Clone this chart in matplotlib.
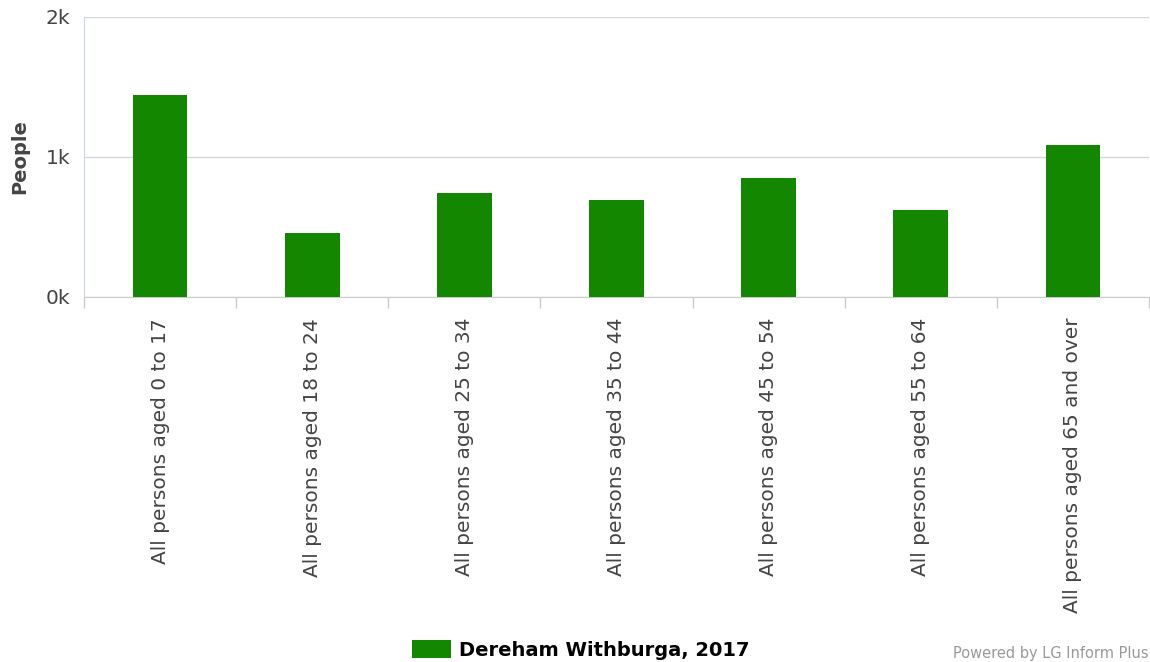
import matplotlib
matplotlib.use("Agg")
import matplotlib.pyplot as plt
import numpy as np

categories = [
    "All persons aged 0 to 17",
    "All persons aged 18 to 24",
    "All persons aged 25 to 34",
    "All persons aged 35 to 44",
    "All persons aged 45 to 54",
    "All persons aged 55 to 64",
    "All persons aged 65 and over",
]
people = [1443, 457, 743, 693, 850, 621, 1086]
series_name = "Dereham Withburga, 2017"
ytick_values = [0, 1000, 2000]
ytick_labels = ["0k", "1k", "2k"]

BAR = "#138700"
TEXT = "#444444"

fig = plt.figure(figsize=(11.5, 6.62), dpi=100)
ax = fig.add_axes([84 / 1150, 1 - 297 / 662, 1065 / 1150, 280 / 662])

x = np.arange(len(categories))
bars = ax.bar(x, people, width=0.36, color=BAR, label=series_name, zorder=3)

ax.set_xlim(-0.5, len(categories) - 0.5)
ax.set_ylim(0, 2000)
ax.set_yticks(ytick_values)
ax.set_yticklabels(ytick_labels, fontsize=14.5, color=TEXT)
ax.yaxis.grid(True, color="#d6d6d6", linewidth=1, zorder=0)
ax.tick_params(axis="y", length=0, pad=10)

# category labels centred, ticks on the boundaries
ax.set_xticks(x)
ax.set_xticklabels(categories, rotation=90, fontsize=14.5, color=TEXT)
ax.tick_params(axis="x", which="major", length=0, pad=15)
ax.set_xticks(np.arange(len(categories) + 1) - 0.5, minor=True)
ax.tick_params(axis="x", which="minor", length=8, color="#cccccc", width=1)

for side in ("top", "right"):
    ax.spines[side].set_visible(False)
ax.spines["bottom"].set_color("#cccccc")
ax.spines["left"].set_color("#ccd6eb")

ax.set_ylabel("People", fontsize=14, fontweight="bold", color=TEXT)
ax.yaxis.set_label_coords(-55 / 1065, 0.5)

fig.legend(handles=[bars], loc="center", bbox_to_anchor=(0.505, 0.018),
           frameon=False, handlelength=2.0, handleheight=1.0,
           handletextpad=0.4, prop={"weight": "bold", "size": 14})

fig.text(0.999, 0.001, "Powered by LG Inform Plus", ha="right", va="bottom",
         fontsize=10.5, color="#999999")

fig.savefig("out.png", dpi=100, facecolor="white")
